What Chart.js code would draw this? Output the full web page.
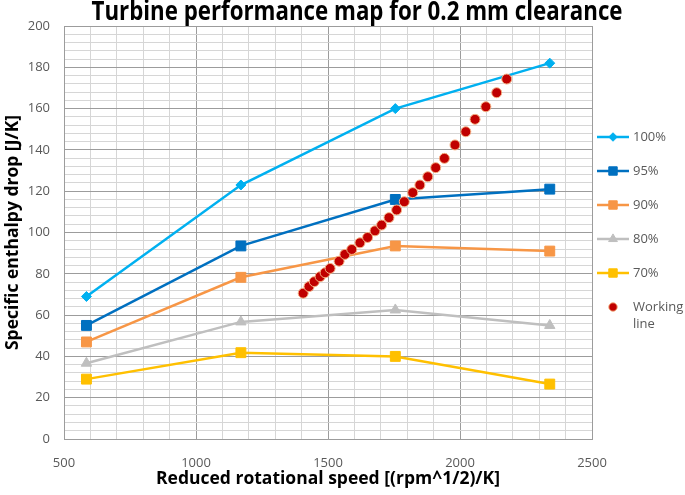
<!DOCTYPE html>
<html>
<head>
<meta charset="utf-8">
<script src="https://cdn.jsdelivr.net/npm/chart.js@4.4.0/dist/chart.umd.min.js"></script>
<style>
  html, body { margin: 0; padding: 0; background: #ffffff; }
  #chart { display: block; }
</style>
</head>
<body>
<canvas id="chart" width="685" height="495"></canvas>
<script>
const chartTitle = 'Turbine performance map for 0.2 mm clearance';
const xTitle = 'Reduced rotational speed [(rpm^1/2)/K]';
const yTitle = 'Specific enthalpy drop [J/K]';

// speed lines (same reduced speeds for every curve)
const speeds = [585, 1170, 1755, 2340];
const seriesNames = ['100%', '95%', '90%', '80%', '70%'];
const drop100 = [69, 123, 160, 182];
const drop95 = [55, 93.5, 116, 121];
const drop90 = [47, 78.3, 93.5, 91];
const drop80 = [36.7, 56.7, 62.5, 55];
const drop70 = [29, 41.8, 40, 26.6];

const workingName = 'Working line';
const workingSpeed = [1406, 1428, 1448, 1470, 1489, 1508, 1542, 1564, 1590, 1621, 1650, 1678, 1703, 1731,
  1760, 1789, 1821, 1848, 1878, 1908, 1941, 1981, 2022, 2057, 2098, 2139, 2177];
const workingDrop = [70.6, 73.8, 76.2, 78.6, 80.5, 82.6, 86.1, 89.4, 91.8, 95, 97.6, 100.8, 103.6, 107.2,
  110.9, 114.9, 119.3, 123, 127, 131.4, 135.9, 142.4, 148.8, 154.8, 160.9, 167.7, 174.3];

const xLabelValues = [500, 1000, 1500, 2000, 2500];
const yLabelValues = [0, 20, 40, 60, 80, 100, 120, 140, 160, 180, 200];

const colors = {
  c100: '#00b0f0',
  c95: '#0070c0',
  c90: '#f79646',
  c80: '#bfbfbf',
  c70: '#ffc000',
  working: '#c00000',
  workingEdge: '#f4b183',
  gridMajor: '#9c9c9c',
  gridMinor: '#d6d6d6',
  text: '#595959'
};

const FONT = '"Open Sans", "Liberation Sans", sans-serif';

function toPoints(xs, ys) {
  return xs.map((x, i) => ({ x, y: ys[i] }));
}

function speedLine(label, values, color, pointStyle, radius, order) {
  return {
    label,
    data: toPoints(speeds, values),
    showLine: true,
    borderColor: color,
    backgroundColor: color,
    borderWidth: 2.5,
    pointStyle,
    pointRadius: radius,
    pointBackgroundColor: color,
    pointBorderColor: color,
    pointBorderWidth: 1,
    tension: 0,
    order
  };
}

const titlePlugin = {
  id: 'fitTitle',
  afterDraw(chart) {
    const ctx = chart.ctx;
    ctx.save();
    ctx.font = 'bold 26px ' + FONT;
    const w = ctx.measureText(chartTitle).width;
    ctx.translate(357, 20);
    ctx.scale(531 / w, 1);
    ctx.textAlign = 'center';
    ctx.textBaseline = 'alphabetic';
    ctx.fillStyle = '#000000';
    ctx.fillText(chartTitle, 0, 0);
    ctx.restore();
  }
};

function wrapWords(ctx, text, maxWidth) {
  const words = text.split(' ');
  const lines = [];
  let line = '';
  words.forEach((word) => {
    const test = line ? line + ' ' + word : word;
    if (line && ctx.measureText(test).width > maxWidth) {
      lines.push(line);
      line = word;
    } else {
      line = test;
    }
  });
  lines.push(line);
  return lines;
}

const sideLegend = {
  id: 'sideLegend',
  afterDraw(chart) {
    const ctx = chart.ctx;
    const x0 = chart.chartArea.right + 5;
    ctx.save();
    ctx.font = '13px ' + FONT;
    ctx.textBaseline = 'middle';
    ctx.textAlign = 'left';
    chart.data.datasets.forEach((ds, i) => {
      const y = 137 + i * 34;
      if (ds.showLine) {
        ctx.strokeStyle = ds.borderColor;
        ctx.lineWidth = ds.borderWidth;
        ctx.beginPath();
        ctx.moveTo(x0, y);
        ctx.lineTo(x0 + 32, y);
        ctx.stroke();
      }
      ctx.fillStyle = ds.pointBackgroundColor;
      ctx.strokeStyle = ds.pointBorderColor;
      ctx.lineWidth = 1;
      Chart.helpers.drawPoint(ctx, { pointStyle: ds.pointStyle, radius: ds.pointRadius * 0.85, borderWidth: 1, rotation: 0 }, x0 + 16, y);
      ctx.fillStyle = colors.text;
      wrapWords(ctx, ds.label, 50).forEach((line, k) => {
        ctx.fillText(line, x0 + 36, y + k * 17);
      });
    });
    ctx.restore();
  }
};

const datasets = [
  speedLine(seriesNames[0], drop100, colors.c100, 'rectRot', 5, 1),
  speedLine(seriesNames[1], drop95, colors.c95, 'rect', 7, 2),
  speedLine(seriesNames[2], drop90, colors.c90, 'rect', 7, 3),
  speedLine(seriesNames[3], drop80, colors.c80, 'triangle', 6, 4),
  speedLine(seriesNames[4], drop70, colors.c70, 'rect', 7, 5),
  {
    label: workingName,
    data: toPoints(workingSpeed, workingDrop),
    showLine: false,
    pointStyle: 'circle',
    pointRadius: 5,
    pointBackgroundColor: colors.working,
    pointBorderColor: colors.workingEdge,
    pointBorderWidth: 1,
    order: 0
  }
];

new Chart(document.getElementById('chart'), {
  type: 'scatter',
  data: { datasets },
  options: {
    responsive: false,
    animation: false,
    devicePixelRatio: 1,
    layout: { padding: { top: 26, right: 93, left: 0, bottom: 0 } },
    plugins: {
      legend: { display: false },
      title: { display: false },
      tooltip: { enabled: false }
    },
    scales: {
      x: {
        type: 'linear',
        min: 500,
        max: 2500,
        afterFit: (scale) => { scale.height = 56; },
        ticks: {
          stepSize: 100,
          autoSkip: false,
          maxRotation: 0,
          padding: 16,
          color: colors.text,
          font: { family: FONT, size: 13 },
          callback: (v) => (xLabelValues.includes(v) ? String(v) : '')
        },
        grid: {
          drawTicks: false,
          color: (c) => (xLabelValues.includes(c.tick.value) ? colors.gridMajor : colors.gridMinor)
        },
        border: { color: colors.gridMajor },
        title: {
          display: true,
          text: xTitle,
          color: '#000000',
          font: { family: FONT, size: 17.5, weight: 'bold', lineHeight: 1.2 },
          padding: { top: 0, bottom: 5 }
        }
      },
      y: {
        type: 'linear',
        min: 0,
        max: 200,
        afterFit: (scale) => { scale.width = 64; },
        ticks: {
          stepSize: 4,
          autoSkip: false,
          padding: 14,
          color: colors.text,
          font: { family: FONT, size: 13 },
          callback: (v) => (yLabelValues.includes(v) ? String(v) : '')
        },
        grid: {
          drawTicks: false,
          color: (c) => (yLabelValues.includes(c.tick.value) ? colors.gridMajor : colors.gridMinor)
        },
        border: { color: colors.gridMajor },
        title: {
          display: true,
          text: yTitle,
          color: '#000000',
          font: { family: FONT, size: 17.5, weight: 'bold', lineHeight: 1.2 },
          padding: { top: 3, bottom: 0 }
        }
      }
    }
  },
  plugins: [titlePlugin, sideLegend]
});
</script>
</body>
</html>
